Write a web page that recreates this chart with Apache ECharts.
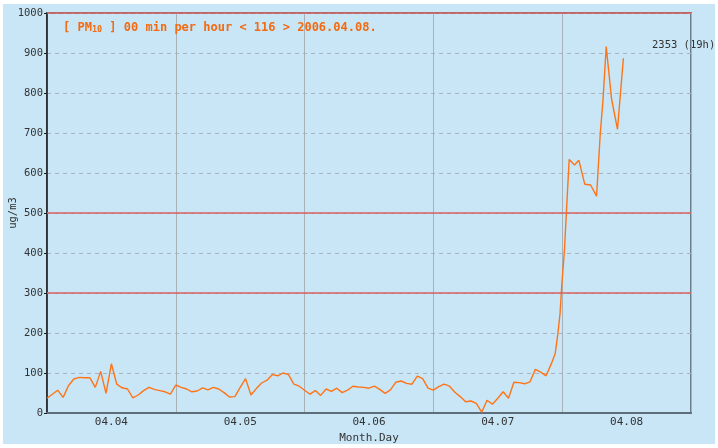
<!DOCTYPE html>
<html><head><meta charset="utf-8">
<script src="https://cdn.jsdelivr.net/npm/echarts@6/dist/echarts.min.js"></script>
<style>
html,body{margin:0;padding:0;background:#fff;}
#bg{position:absolute;left:3px;top:4px;width:712px;height:440px;background:#c9e6f6;}
#c{position:absolute;left:0;top:0;width:718px;height:448px;}
</style></head>
<body><div id="bg"></div><div id="c"></div>
<script>
// hours since 04.04 00h
const hours = [0,1,2,3,4,5,6,7,8,9,10,11,12,13,14,15,16,17,18,19,20,21,22,23,
 24,25,26,27,28,29,30,31,32,33,34,35,36,37,38,39,40,41,42,43,44,45,46,47,
 48,49,50,51,52,53,54,55,56,57,58,59,60,61,62,63,64,65,66,67,68,69,70,71,
 72,73,74,75,76,77,78,79,80,81,82,83,84,85,86,87,88,89,90,91,92,93,94,
 94.7,95.2,95.6,95.9,96.4,96.9,97.3,98.3,99.1,100.2,101.3,102.4,103.1,103.6,104.2,105.2,106.3,107.4];
const pm10 = [37,47,57,39,68,85,89,88,88,64,104,49,123,72,63,60,38,45,56,64,59,56,53,47,
 70,64,60,53,55,63,58,64,60,51,40,41,64,86,45,61,75,82,96,93,100,96,72,67,
 57,47,56,44,60,54,62,51,57,67,65,64,62,67,59,49,58,77,80,74,72,92,86,62,
 57,66,72,67,52,41,28,30,24,2,32,22,37,53,37,77,76,73,78,109,102,93,124,
 149,199,249,316,403,532,634,620,632,572,570,542,700,782,916,785,709,887];
const dayLabels = ['04.04','04.05','04.06','04.07','04.08'];
const thresholds = [300, 500, 1000];
const yTicks = [0,100,200,300,400,500,600,700,800,900,1000];
const titleParts = ['[ PM', '10', ' ] 00 min per hour < 116 > 2006.04.08.'];
const lastLabel = '2353 (19h)';

const mono = "'DejaVu Sans Mono', monospace";
const chart = echarts.init(document.getElementById('c'));
chart.setOption({
  backgroundColor: 'transparent',
  animation: false,
  title: {
    left: 58, top: 17,
    text: '{a|' + titleParts[0] + '}{s|' + titleParts[1] + '}{a|' + titleParts[2] + '}',
    textStyle: {
      rich: {
        a: {fontFamily: mono, fontSize: 12, color: '#f26b12', fontWeight: 'bold'},
        s: {fontFamily: mono, fontSize: 8.5, color: '#f26b12', fontWeight: 'bold', verticalAlign: 'bottom', padding: [3,0,0,0]}
      }
    }
  },
  grid: {left: 47, right: 27, top: 13, bottom: 35, containLabel: false, outerBoundsMode: 'none',
    show: true, borderColor: '#6b7c8a', borderWidth: 2, backgroundColor: 'transparent'},
  xAxis: [{
    type: 'value', min: 0, max: 120, interval: 12,
    axisLine: {show: true, lineStyle: {color: '#5d6d7a', width: 2}},
    axisTick: {show: false},
    splitLine: {show: false},
    axisLabel: {
      margin: 4, fontFamily: mono, fontSize: 11, color: '#333',
      formatter: v => (v % 24 === 12) ? dayLabels[(v - 12) / 24] : ''
    },
    name: 'Month.Day', nameLocation: 'middle', nameGap: 18,
    nameTextStyle: {fontFamily: mono, fontSize: 11, color: '#333'}
  }, {
    type: 'value', min: 0, max: 120, interval: 24, position: 'bottom',
    axisLine: {show: false}, axisTick: {show: false}, axisLabel: {show: false},
    splitLine: {show: true, lineStyle: {color: '#a9b1b8', width: 1}}
  }],
  yAxis: {
    type: 'value', min: 0, max: 1000, interval: 100,
    axisLine: {show: true, lineStyle: {color: '#1a1a1a', width: 1.5}},
    axisTick: {show: true, length: 3, lineStyle: {color: '#1a1a1a'}},
    axisLabel: {margin: 4, fontFamily: mono, fontSize: 10.5, color: '#333',
      formatter: v => yTicks.indexOf(v) >= 0 ? String(v) : ''},
    splitLine: {show: true, lineStyle: {color: '#aab3bb', type: [4, 4], width: 1}},
    name: 'ug/m3', nameLocation: 'middle', nameGap: 28, nameRotate: 90, nameMoveOverlap: false,
    nameTextStyle: {fontFamily: mono, fontSize: 10.5, color: '#333'}
  },
  series: [{
    type: 'line', xAxisIndex: 0,
    data: hours.map((h, i) => [h, pm10[i]]),
    showSymbol: false, symbol: 'none',
    lineStyle: {color: '#ff7417', width: 1.4},
    z: 3,
    markLine: {
      silent: true, symbol: ['none', 'none'], label: {show: false},
      lineStyle: {color: '#d9605e', type: 'solid', width: 1.5},
      data: thresholds.map(t => ({yAxis: t}))
    }
  }],
  graphic: [{
    type: 'text', left: 652, top: 40,
    style: {text: lastLabel, fontFamily: mono, fontSize: 10.5, fill: '#333'}
  }]
});
</script></body></html>
